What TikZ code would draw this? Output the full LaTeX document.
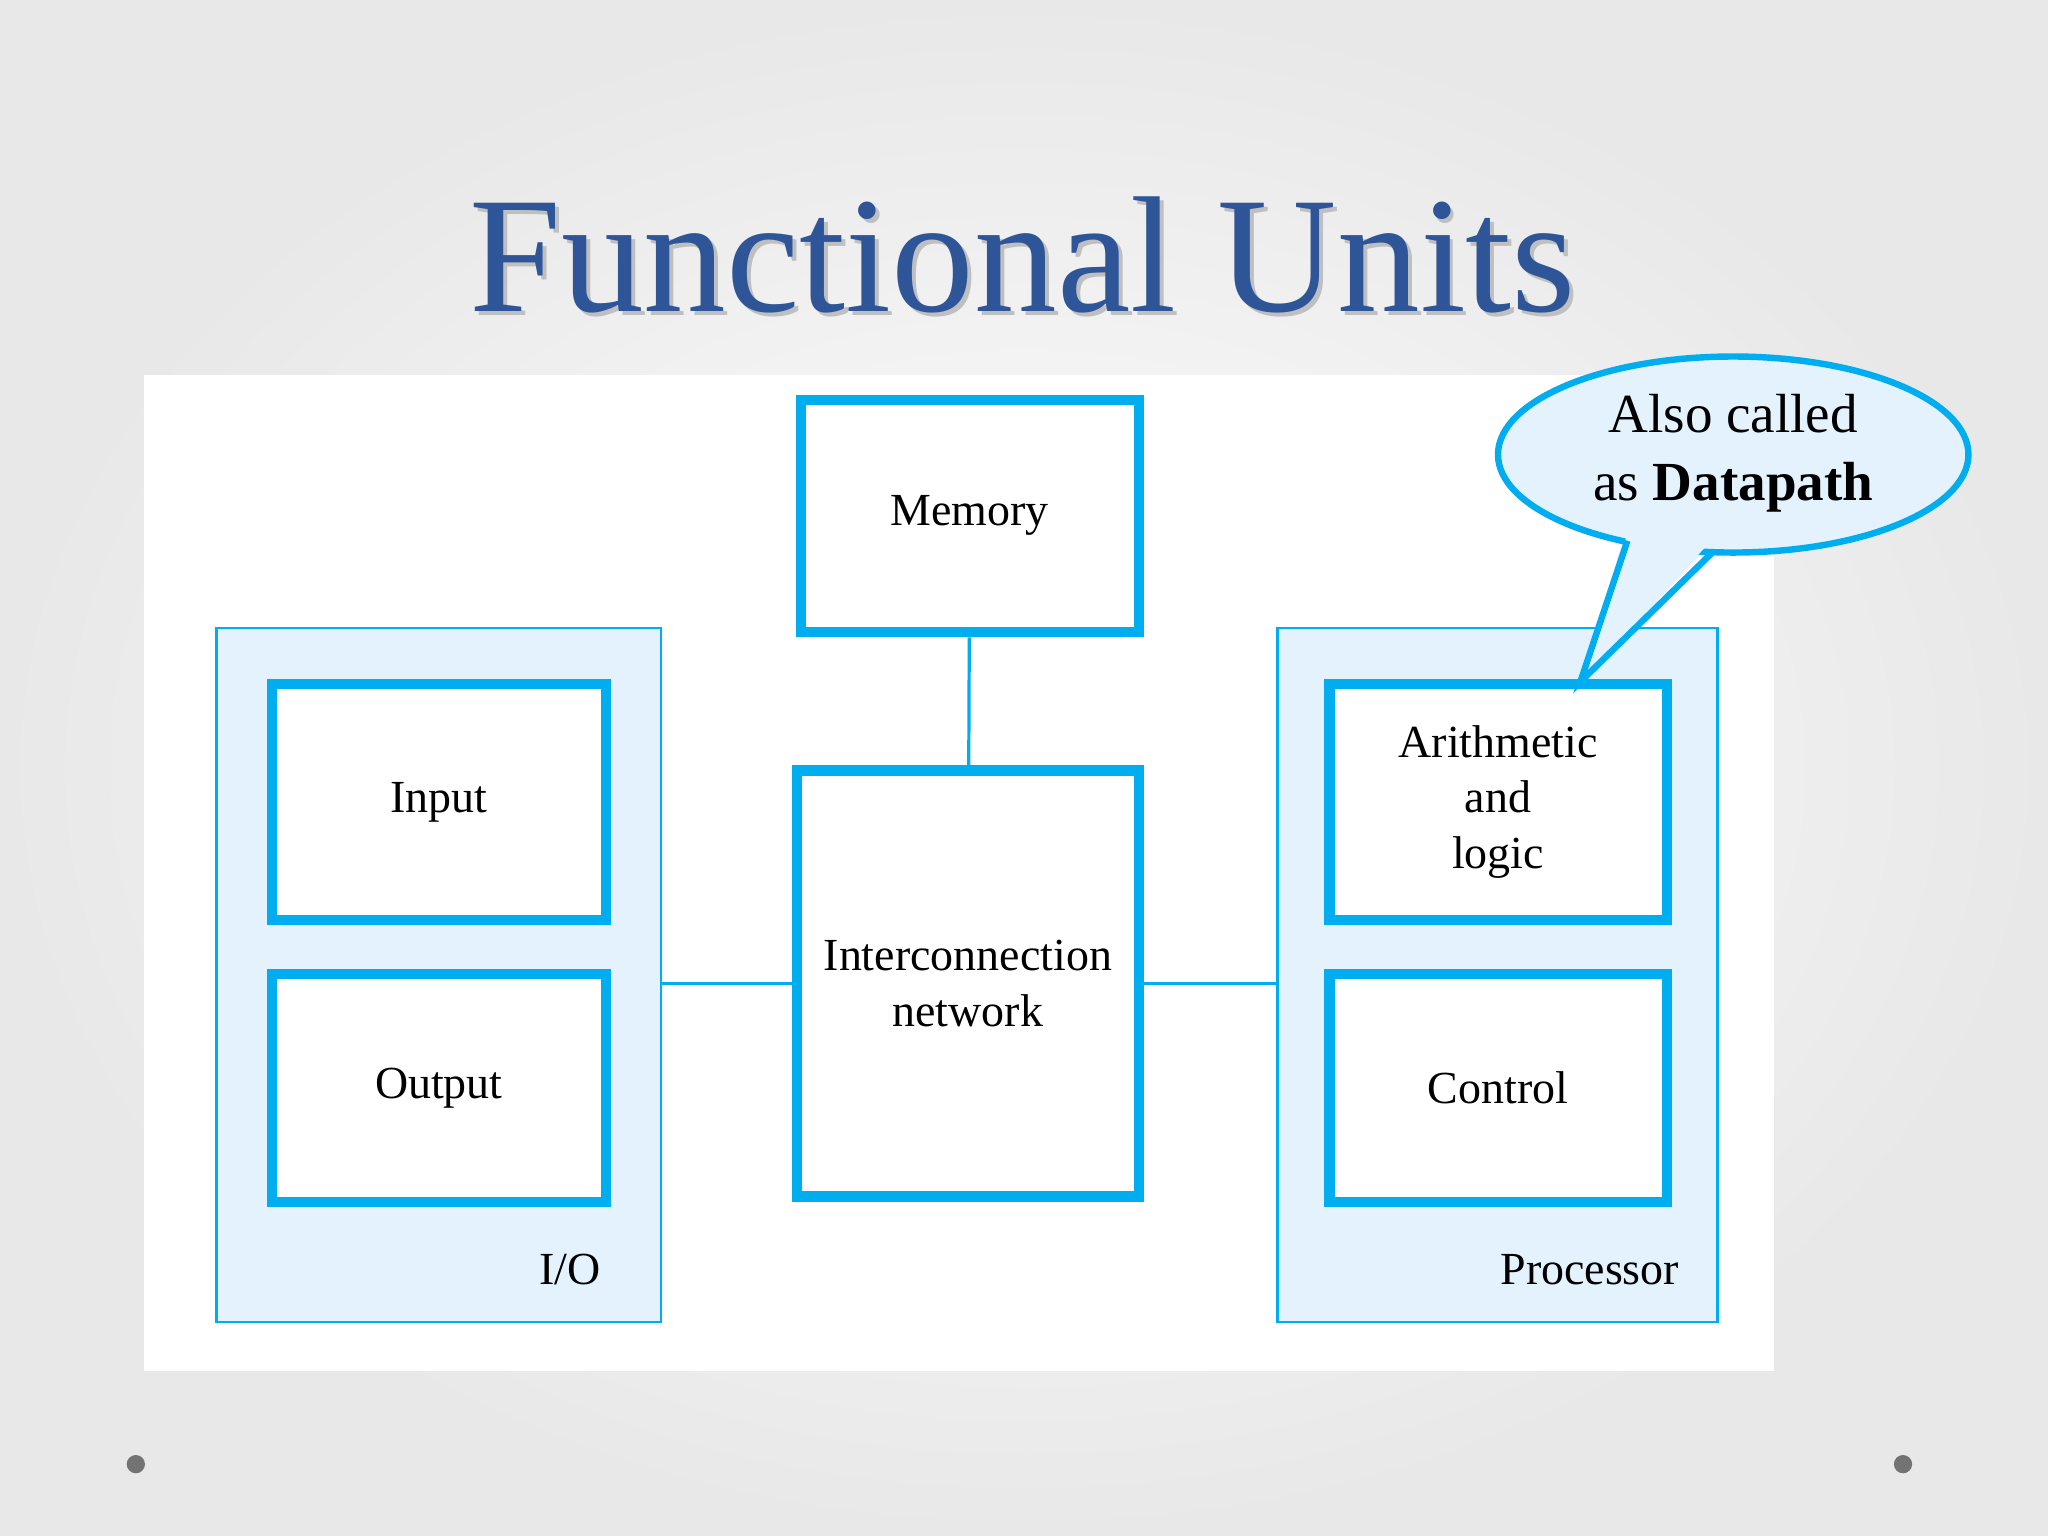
\documentclass[tikz,border=0pt]{standalone}
\usepackage{fontspec}
\setmainfont{Liberation Serif}
\usetikzlibrary{shapes.geometric}
\definecolor{cyanline}{HTML}{00AEEF}
\definecolor{groupfill}{HTML}{E3F2FC}
\definecolor{titleblue}{HTML}{2E5597}
\begin{document}
\begin{tikzpicture}[
  x=0.01cm,y=-0.01cm,
  unit/.style={draw=cyanline,line width=2.2pt,fill=white,inner sep=0pt},
  group/.style={draw=cyanline,line width=0.6pt,fill=groupfill,inner sep=0pt},
  link/.style={draw=cyanline,line width=0.7pt},
  lbl/.style={font=\fontsize{10}{12}\selectfont,align=center}
  ]
  \shade[inner color=white,outer color=black!9] (0,0) rectangle (1568,1176);
  \useasboundingbox (0,0) rectangle (1568,1176);
  \fill[white] (110,287) rectangle (1358,1050);

  \node[font=\fontsize{36}{42}\selectfont,text=black!25] at (786,198) {Functional Units};
  \node[font=\fontsize{36}{42}\selectfont,text=titleblue] (title) at (783,195) {Functional Units};

  % groups
  \node[group,minimum width=3.4cm,minimum height=5.31cm] (io) at (336,746.5) {};
  \node[group,minimum width=3.37cm,minimum height=5.31cm] (proc) at (1146.5,746.5) {};
  \node[lbl,anchor=east] at (472,972) {I/O};
  \node[lbl,anchor=east] at (1298,972) {Processor};

  % units
  \node[unit,lbl,minimum width=2.56cm,minimum height=1.8cm] (input) at (336,614) {Input};
  \node[unit,lbl,minimum width=2.56cm,minimum height=1.74cm] (output) at (336,833) {Output};
  \node[unit,lbl,minimum width=2.59cm,minimum height=1.78cm] (mem) at (742.5,395) {Memory};
  \node[unit,lbl,minimum width=2.62cm,minimum height=3.26cm] (icn) at (741,753) {};
  \node[lbl] at (741,753) {Interconnection\\network};
  \node[unit,lbl,minimum width=2.58cm,minimum height=1.8cm] (alu) at (1147,614) {Arithmetic\\and\\logic};
  \node[unit,lbl,minimum width=2.58cm,minimum height=1.74cm] (ctrl) at (1147,833) {Control};

  % connections
  \draw[link] (mem) -- (icn);
  \draw[link] (io.east |- icn) -- (icn);
  \draw[link] (icn) -- (proc.west |- icn);

  % callout
  \coordinate (tip) at (1210,522);
  \fill[groupfill] (1245,405) -- (tip) -- (1316,410) -- cycle;
  \node[ellipse,draw=cyanline,fill=groupfill,line width=1.4pt,minimum width=3.6cm,minimum height=1.5cm] (callout) at (1327,348) {};
  \fill[groupfill] (1247,405) -- (tip) -- (1312,412) -- cycle;
  \draw[cyanline,line width=1.4pt] (1246,414) -- (tip) -- (1311,423);
  \node[font=\fontsize{12}{15}\selectfont,align=center] at (1327,347) {Also called\\as \textbf{Datapath}};

  \fill[black!55] (104,1121) circle (7);
  \fill[black!55] (1457,1121) circle (7);
\end{tikzpicture}
\end{document}
